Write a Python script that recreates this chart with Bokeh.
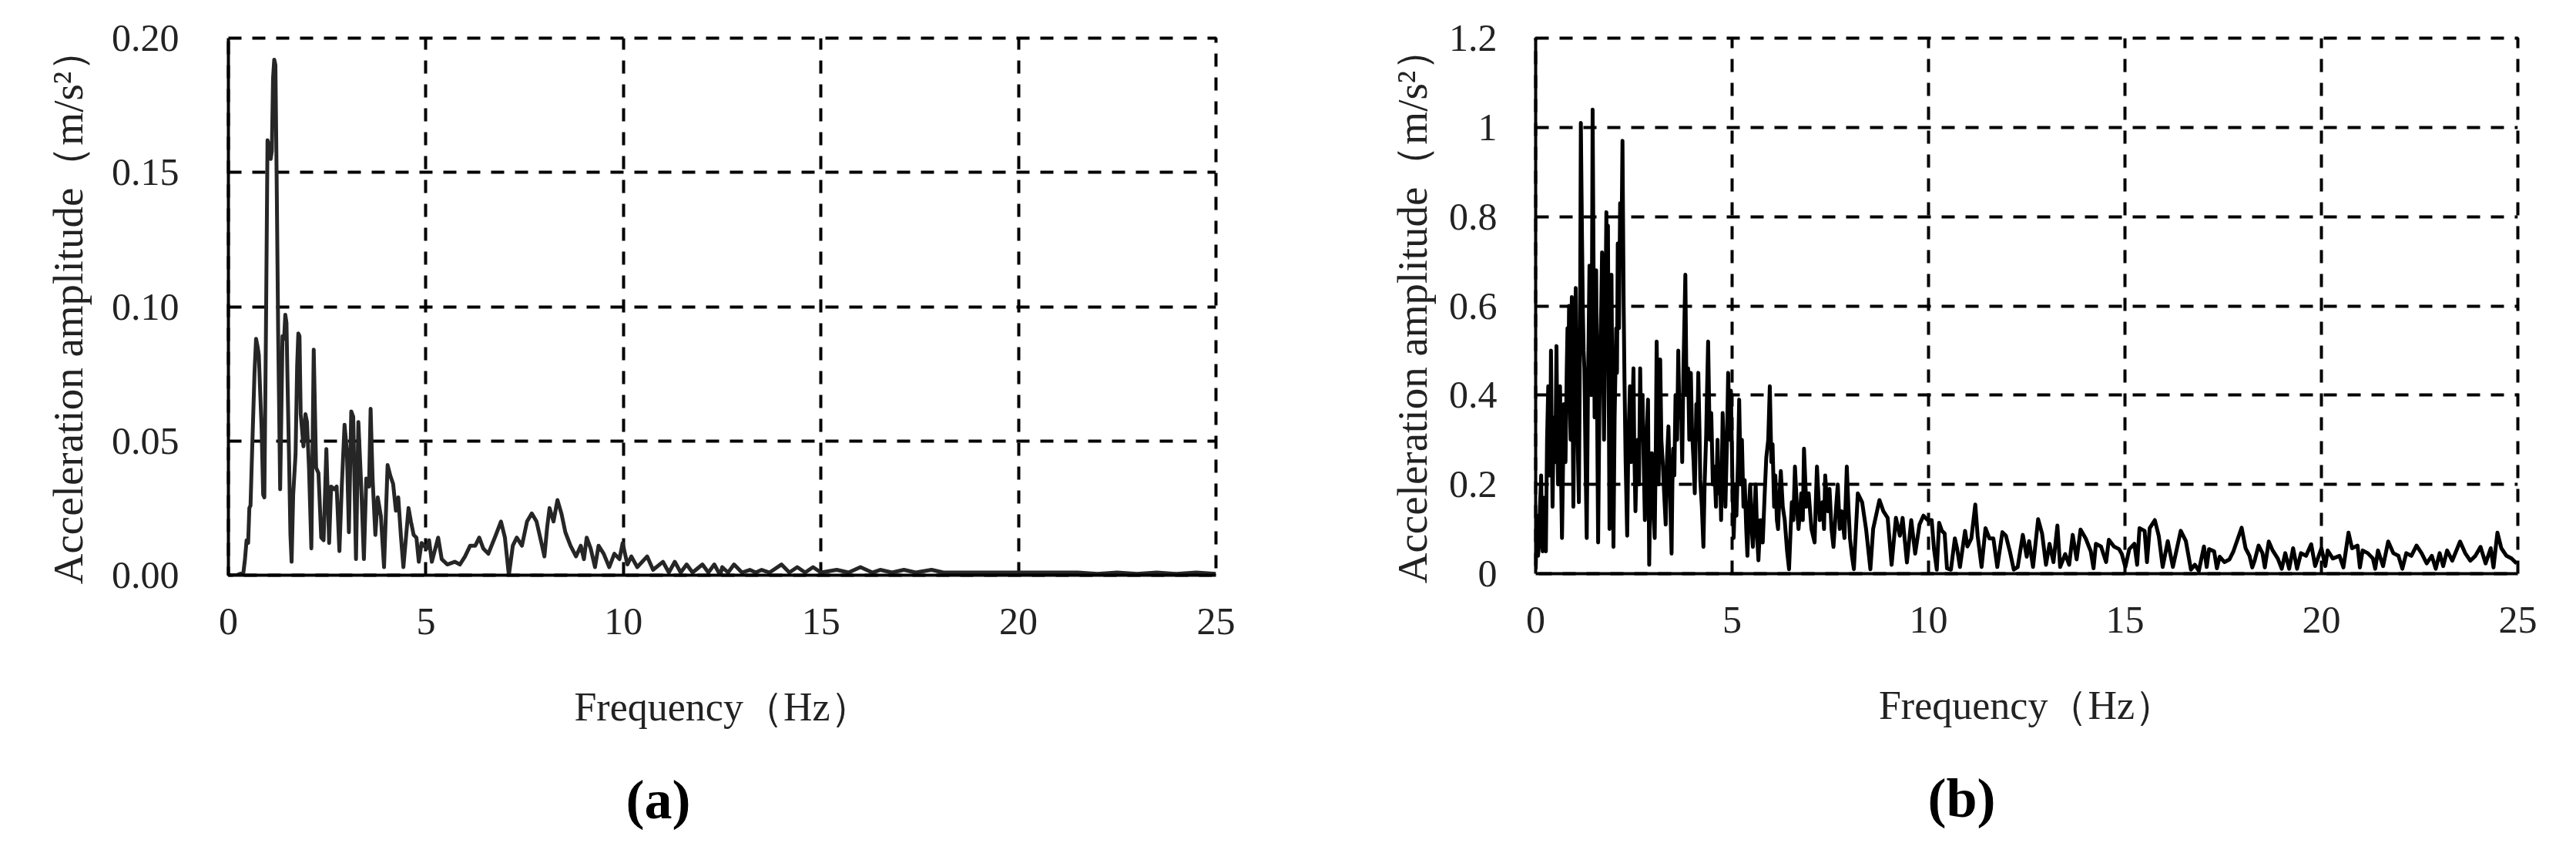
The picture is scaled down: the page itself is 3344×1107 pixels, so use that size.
from bokeh.plotting import figure
from bokeh.layouts import row
from bokeh.models import Range1d, FixedTicker, CustomJSTickFormatter, Title
from bokeh.embed import file_html
from bokeh.resources import INLINE

# ---------------- data ----------------
x_ticks = [0, 5, 10, 15, 20, 25]
x_tick_labels = ["0", "5", "10", "15", "20", "25"]
y_ticks_a = [0, 0.05, 0.10, 0.15, 0.20]
y_tick_labels_a = ["0.00", "0.05", "0.10", "0.15", "0.20"]
y_ticks_b = [0, 0.2, 0.4, 0.6, 0.8, 1.0, 1.2]
y_tick_labels_b = ["0", "0.2", "0.4", "0.6", "0.8", "1", "1.2"]
x_label = "Frequency（Hz）"
y_label = "Acceleration amplitude（m/s²）"
panel_labels = ["(a)", "(b)"]

# (a) spectrum: frequency (Hz) and amplitude (m/s2)
freq_a = [0.00, 0.20, 0.38, 0.42, 0.46, 0.50, 0.53, 0.56, 0.60, 0.66, 0.70, 0.74, 0.77, 0.80, 0.84,
          0.88, 0.91, 0.95, 0.99, 1.03, 1.07, 1.10, 1.13, 1.16, 1.19, 1.22, 1.26, 1.31, 1.34, 1.37,
          1.41, 1.44, 1.47, 1.50, 1.54, 1.57, 1.60, 1.64, 1.70, 1.74, 1.77, 1.80, 1.83, 1.86, 1.90,
          1.95, 1.99, 2.04, 2.10, 2.16, 2.22, 2.28, 2.35, 2.41, 2.48, 2.55, 2.60, 2.68, 2.74, 2.81,
          2.87, 2.94, 3.00, 3.05, 3.11, 3.16, 3.23, 3.29, 3.36, 3.43, 3.49, 3.56, 3.60, 3.65, 3.72,
          3.78, 3.86, 3.94, 4.03, 4.10, 4.17, 4.24, 4.30, 4.37, 4.43, 4.56, 4.62, 4.69, 4.76, 4.82,
          4.89, 4.95, 5.02, 5.08, 5.15, 5.31, 5.40, 5.54, 5.73, 5.86, 5.99, 6.12, 6.25, 6.35, 6.45,
          6.58, 6.77, 6.90, 7.00, 7.10, 7.20, 7.30, 7.43, 7.56, 7.68, 7.80, 7.94, 8.00, 8.07, 8.13,
          8.23, 8.33, 8.43, 8.53, 8.66, 8.80, 8.92, 9.00, 9.07, 9.17, 9.28, 9.37, 9.50, 9.64, 9.77,
          9.90, 9.98, 10.10, 10.20, 10.35, 10.60, 10.75, 11.00, 11.15, 11.30, 11.45, 11.60, 11.75, 12.00, 12.15,
          12.30, 12.45, 12.50, 12.65, 12.80, 13.00, 13.20, 13.35, 13.50, 13.70, 14.00, 14.20, 14.40, 14.60, 14.80,
          15.00, 15.40, 15.70, 16.00, 16.30, 16.50, 16.80, 17.10, 17.40, 17.80, 18.10, 18.50, 19.00, 19.50, 20.00,
          20.50, 21.00, 21.50, 22.00, 22.50, 23.00, 23.50, 24.00, 24.50, 25.00]
amp_a = [0.000, 0.000, 0.001, 0.006, 0.013, 0.012, 0.025, 0.026, 0.046, 0.075, 0.088, 0.085, 0.082, 0.070, 0.055,
         0.030, 0.029, 0.090, 0.162, 0.160, 0.155, 0.158, 0.185, 0.192, 0.190, 0.150, 0.090, 0.032, 0.060, 0.089,
         0.088, 0.097, 0.094, 0.070, 0.040, 0.015, 0.005, 0.030, 0.045, 0.078, 0.090, 0.089, 0.060, 0.055, 0.048,
         0.060, 0.057, 0.040, 0.010, 0.084, 0.040, 0.038, 0.014, 0.013, 0.047, 0.012, 0.033, 0.032, 0.033, 0.009,
         0.033, 0.056, 0.046, 0.016, 0.061, 0.059, 0.006, 0.057, 0.034, 0.006, 0.036, 0.033, 0.062, 0.036, 0.015,
         0.029, 0.022, 0.003, 0.041, 0.037, 0.034, 0.024, 0.029, 0.014, 0.003, 0.025, 0.020, 0.015, 0.014, 0.005,
         0.012, 0.011, 0.010, 0.013, 0.005, 0.014, 0.006, 0.004, 0.005, 0.004, 0.007, 0.011, 0.011, 0.014, 0.010,
         0.008, 0.015, 0.020, 0.014, 0.000, 0.011, 0.014, 0.011, 0.020, 0.023, 0.020, 0.011, 0.007, 0.018, 0.025,
         0.020, 0.028, 0.023, 0.016, 0.011, 0.007, 0.011, 0.006, 0.014, 0.010, 0.003, 0.011, 0.008, 0.003, 0.008,
         0.006, 0.012, 0.004, 0.007, 0.003, 0.007, 0.002, 0.005, 0.001, 0.005, 0.001, 0.004, 0.001, 0.004, 0.001,
         0.004, 0.000, 0.003, 0.001, 0.004, 0.001, 0.002, 0.001, 0.002, 0.001, 0.004, 0.001, 0.003, 0.001, 0.003,
         0.001, 0.002, 0.001, 0.003, 0.001, 0.002, 0.001, 0.002, 0.001, 0.002, 0.001, 0.001, 0.001, 0.001, 0.001,
         0.001, 0.001, 0.001, 0.0005, 0.001, 0.0005, 0.001, 0.0005, 0.001, 0.0005]

# (b) spectrum, 0-8.1 Hz: (frequency, amplitude) readings
spectrum_b_low = [
    (0.00, 0.01), (0.02, 0.08), (0.04, 0.13), (0.06, 0.04), (0.08, 0.06), (0.11, 0.15), (0.14, 0.22),
    (0.16, 0.10), (0.18, 0.05), (0.20, 0.12), (0.22, 0.17), (0.24, 0.08), (0.26, 0.05), (0.29, 0.30),
    (0.32, 0.42), (0.34, 0.28), (0.36, 0.22), (0.38, 0.38), (0.39, 0.50), (0.41, 0.30), (0.43, 0.15),
    (0.45, 0.28), (0.47, 0.35), (0.50, 0.25), (0.53, 0.51), (0.55, 0.32), (0.57, 0.20), (0.60, 0.36),
    (0.62, 0.42), (0.65, 0.20), (0.67, 0.08), (0.70, 0.26), (0.72, 0.38), (0.74, 0.30), (0.76, 0.25),
    (0.79, 0.45), (0.81, 0.55), (0.83, 0.42), (0.85, 0.60), (0.87, 0.38), (0.89, 0.30), (0.91, 0.50),
    (0.92, 0.62), (0.94, 0.40), (0.96, 0.15), (0.99, 0.45), (1.02, 0.64), (1.04, 0.48), (1.06, 0.35),
    (1.08, 0.25), (1.10, 0.16), (1.13, 0.55), (1.15, 1.01), (1.18, 0.75), (1.20, 0.60), (1.22, 0.50),
    (1.24, 0.46), (1.27, 0.25), (1.30, 0.08), (1.33, 0.40), (1.37, 0.69), (1.40, 0.55), (1.42, 0.40),
    (1.44, 0.80), (1.45, 1.04), (1.48, 0.60), (1.50, 0.35), (1.52, 0.50), (1.54, 0.68), (1.57, 0.30),
    (1.59, 0.07), (1.62, 0.35), (1.64, 0.50), (1.67, 0.60), (1.69, 0.72), (1.72, 0.45), (1.74, 0.30),
    (1.77, 0.55), (1.80, 0.81), (1.82, 0.60), (1.84, 0.78), (1.86, 0.40), (1.88, 0.10), (1.91, 0.45),
    (1.93, 0.67), (1.96, 0.30), (1.98, 0.06), (2.01, 0.35), (2.05, 0.55), (2.07, 0.45), (2.09, 0.74),
    (2.12, 0.55), (2.15, 0.83), (2.18, 0.70), (2.21, 0.97), (2.24, 0.60), (2.26, 0.44), (2.29, 0.25),
    (2.33, 0.085), (2.36, 0.30), (2.40, 0.42), (2.43, 0.25), (2.46, 0.35), (2.49, 0.46), (2.51, 0.28),
    (2.54, 0.14), (2.57, 0.25), (2.60, 0.30), (2.63, 0.20), (2.66, 0.46), (2.69, 0.30), (2.72, 0.40),
    (2.75, 0.25), (2.78, 0.12), (2.82, 0.30), (2.86, 0.39), (2.89, 0.02), (2.92, 0.20), (2.96, 0.27),
    (2.99, 0.15), (3.03, 0.08), (3.06, 0.30), (3.08, 0.52), (3.11, 0.35), (3.13, 0.20), (3.15, 0.35),
    (3.17, 0.48), (3.20, 0.30), (3.24, 0.24), (3.27, 0.18), (3.31, 0.11), (3.34, 0.25), (3.38, 0.33),
    (3.42, 0.18), (3.46, 0.045), (3.48, 0.20), (3.50, 0.28), (3.53, 0.22), (3.56, 0.40), (3.60, 0.30),
    (3.63, 0.50), (3.66, 0.35), (3.70, 0.38), (3.73, 0.25), (3.76, 0.45), (3.81, 0.67), (3.84, 0.40),
    (3.88, 0.46), (3.91, 0.30), (3.95, 0.45), (3.98, 0.32), (4.02, 0.25), (4.05, 0.18), (4.09, 0.38),
    (4.11, 0.30), (4.14, 0.45), (4.17, 0.32), (4.19, 0.21), (4.23, 0.15), (4.27, 0.06), (4.30, 0.20),
    (4.34, 0.31), (4.36, 0.40), (4.39, 0.52), (4.43, 0.30), (4.47, 0.36), (4.51, 0.20), (4.55, 0.24),
    (4.59, 0.15), (4.63, 0.30), (4.66, 0.18), (4.69, 0.24), (4.72, 0.12), (4.76, 0.36), (4.80, 0.25),
    (4.83, 0.15), (4.87, 0.30), (4.90, 0.45), (4.94, 0.30), (4.97, 0.41), (5.01, 0.20), (5.04, 0.08),
    (5.08, 0.20), (5.11, 0.13), (5.15, 0.25), (5.18, 0.39), (5.22, 0.20), (5.25, 0.30), (5.29, 0.15),
    (5.32, 0.21), (5.36, 0.10), (5.39, 0.04), (5.43, 0.15), (5.46, 0.20), (5.50, 0.10), (5.53, 0.06),
    (5.57, 0.14), (5.60, 0.20), (5.64, 0.08), (5.67, 0.03), (5.72, 0.12), (5.78, 0.07), (5.83, 0.18),
    (5.87, 0.26), (5.92, 0.30), (5.96, 0.42), (6.00, 0.25), (6.03, 0.29), (6.07, 0.15), (6.10, 0.22),
    (6.14, 0.12), (6.17, 0.10), (6.21, 0.18), (6.24, 0.23), (6.29, 0.15), (6.34, 0.12), (6.40, 0.05),
    (6.45, 0.01), (6.49, 0.10), (6.52, 0.16), (6.56, 0.12), (6.60, 0.24), (6.65, 0.15), (6.69, 0.10),
    (6.73, 0.14), (6.76, 0.18), (6.80, 0.12), (6.83, 0.28), (6.89, 0.15), (6.95, 0.18), (7.02, 0.10),
    (7.10, 0.07), (7.13, 0.16), (7.16, 0.24), (7.23, 0.12), (7.30, 0.16), (7.34, 0.10), (7.37, 0.22),
    (7.43, 0.14), (7.48, 0.19), (7.53, 0.10), (7.58, 0.06), (7.64, 0.14), (7.69, 0.20), (7.74, 0.10),
    (7.79, 0.14), (7.86, 0.08), (7.92, 0.24), (7.96, 0.15), (8.00, 0.08), (8.05, 0.04), (8.10, 0.01),
]

# (b) spectrum, 8.2-25 Hz
freq_b_high = [8.20, 8.31, 8.41, 8.52, 8.59, 8.75, 8.85, 8.96, 9.06,
               9.17, 9.27, 9.34, 9.45, 9.56, 9.66, 9.77, 9.87, 9.98, 10.08, 10.14, 10.21, 10.27, 10.34, 10.41,
               10.47, 10.57, 10.67, 10.73, 10.80, 10.93, 10.99, 11.09, 11.19, 11.25, 11.35, 11.45, 11.55, 11.65, 11.75,
               11.88, 11.97, 12.07, 12.17, 12.27, 12.40, 12.50, 12.56, 12.66, 12.79, 12.89, 12.99, 13.08, 13.18, 13.28,
               13.35, 13.48, 13.58, 13.67, 13.77, 13.87, 14.00, 14.13, 14.20, 14.26, 14.39, 14.52, 14.59, 14.72, 14.85,
               14.92, 15.01, 15.11, 15.24, 15.31, 15.37, 15.50, 15.56, 15.63, 15.76, 15.86, 15.96, 16.09, 16.22, 16.42,
               16.55, 16.68, 16.78, 16.88, 17.01, 17.08, 17.14, 17.27, 17.34, 17.41, 17.53, 17.66, 17.76, 17.97, 18.07,
               18.17, 18.24, 18.30, 18.40, 18.50, 18.56, 18.66, 18.76, 18.89, 18.99, 19.08, 19.18, 19.28, 19.38, 19.48,
               19.61, 19.74, 19.84, 20.00, 20.10, 20.16, 20.29, 20.46, 20.56, 20.69, 20.78, 20.92, 20.98, 21.05, 21.18,
               21.31, 21.37, 21.44, 21.57, 21.70, 21.83, 21.96, 22.06, 22.16, 22.29, 22.42, 22.55, 22.68, 22.81, 22.91,
               23.01, 23.10, 23.20, 23.33, 23.53, 23.66, 23.79, 23.92, 24.05, 24.18, 24.31, 24.38, 24.48, 24.58, 24.71,
               24.84, 24.97]
amp_b_high = [0.18, 0.16, 0.10, 0.01, 0.10, 0.165, 0.14, 0.125, 0.02,
              0.125, 0.085, 0.125, 0.025, 0.12, 0.045, 0.11, 0.13, 0.12, 0.12, 0.055, 0.009, 0.114, 0.096, 0.09,
              0.012, 0.009, 0.079, 0.055, 0.015, 0.096, 0.061, 0.079, 0.155, 0.085, 0.015, 0.102, 0.079, 0.079, 0.015,
              0.093, 0.085, 0.05, 0.009, 0.015, 0.087, 0.038, 0.073, 0.015, 0.122, 0.09, 0.02, 0.067, 0.026, 0.108,
              0.015, 0.044, 0.02, 0.087, 0.032, 0.099, 0.079, 0.05, 0.012, 0.067, 0.061, 0.026, 0.076, 0.061, 0.055,
              0.044, 0.015, 0.055, 0.067, 0.02, 0.102, 0.096, 0.026, 0.102, 0.12, 0.085, 0.015, 0.073, 0.015, 0.096,
              0.073, 0.009, 0.02, 0.006, 0.061, 0.015, 0.055, 0.05, 0.012, 0.038, 0.026, 0.032, 0.05, 0.103, 0.057,
              0.04, 0.014, 0.029, 0.063, 0.046, 0.014, 0.072, 0.052, 0.034, 0.011, 0.046, 0.011, 0.057, 0.011, 0.046,
              0.04, 0.066, 0.017, 0.057, 0.017, 0.052, 0.034, 0.04, 0.014, 0.092, 0.057, 0.063, 0.014, 0.052, 0.046,
              0.034, 0.011, 0.052, 0.017, 0.072, 0.046, 0.04, 0.011, 0.046, 0.04, 0.063, 0.046, 0.023, 0.04, 0.011,
              0.046, 0.017, 0.052, 0.029, 0.072, 0.046, 0.029, 0.04, 0.06, 0.023, 0.057, 0.014, 0.092, 0.057, 0.04,
              0.034, 0.023]

freq_b = [f for f, _ in spectrum_b_low] + freq_b_high
amp_b = [a for _, a in spectrum_b_low] + amp_b_high

FONT = "Liberation Serif"
TEXT_COLOR = "#222222"
DASH = "17 14"


def label_formatter(tick_vals, tick_texts):
    return CustomJSTickFormatter(args=dict(tvals=tick_vals, ttexts=tick_texts), code="""
        let best = 0, bd = Infinity;
        for (let i = 0; i < tvals.length; i++) {
            const d = Math.abs(tvals[i] - tick);
            if (d < bd) { bd = d; best = i; }
        }
        return ttexts[best];
    """)


def make_panel(freq, amp, y_ticks, y_labels, y_max, geom, y_standoff, ylab_standoff,
               line_color, line_width, panel_label, title_offset):
    mb_left, mb_top, mb_right, mb_bottom, fw, fh = geom
    p = figure(frame_width=fw, frame_height=fh,
               x_range=Range1d(0, 25), y_range=Range1d(0, y_max),
               output_backend="svg", toolbar_location=None,
               min_border_left=mb_left, min_border_top=mb_top,
               min_border_right=mb_right, min_border_bottom=mb_bottom)
    p.background_fill_color = "white"
    p.border_fill_color = "white"
    # dashed frame (top and right edges look like the grid; left/bottom are covered by axes)
    p.outline_line_color = "black"
    p.outline_line_width = 4
    p.outline_line_dash = DASH

    p.line(freq, amp, line_color=line_color, line_width=line_width, line_join="round")

    for ax in (p.xaxis[0], p.yaxis[0]):
        ax.axis_line_color = "black"
        ax.axis_line_width = 4
        ax.major_tick_out = 0
        ax.major_tick_in = 0
        ax.minor_tick_out = 0
        ax.minor_tick_in = 0
        ax.major_label_text_font = FONT
        ax.major_label_text_font_size = "50px"
        ax.major_label_text_color = TEXT_COLOR
        ax.axis_label_text_font = FONT
        ax.axis_label_text_font_style = "normal"
        ax.axis_label_text_color = TEXT_COLOR
    p.xaxis.axis_label_text_font_size = "52px"
    p.yaxis.axis_label_text_font_size = "55px"

    p.xaxis.ticker = FixedTicker(ticks=x_ticks)
    p.xaxis.formatter = label_formatter(x_ticks, x_tick_labels)
    p.xaxis.major_label_standoff = 43
    p.xaxis.axis_label = x_label
    p.xaxis.axis_label_standoff = 63

    p.yaxis.ticker = FixedTicker(ticks=y_ticks)
    p.yaxis.formatter = label_formatter(y_ticks, y_labels)
    p.yaxis.major_label_standoff = y_standoff
    p.yaxis.axis_label = y_label
    p.yaxis.axis_label_standoff = ylab_standoff

    p.xgrid.ticker = FixedTicker(ticks=x_ticks[1:])
    p.ygrid.ticker = FixedTicker(ticks=y_ticks[1:])
    for g in (p.xgrid[0], p.ygrid[0]):
        g.grid_line_color = "black"
        g.grid_line_width = 4
        g.grid_line_dash = DASH

    t = Title(text=panel_label, align="left", offset=title_offset,
              text_font=FONT, text_font_size="72px", text_font_style="bold",
              text_color="black", standoff=95)
    p.add_layout(t, "below")
    return p


pa = make_panel(freq_a, amp_a, y_ticks_a, y_tick_labels_a, 0.2,
                (296, 43, 100, 340, 1282, 697), 64, 23, "#262626", 5, panel_labels[0], 516)
pb = make_panel(freq_b, amp_b, y_ticks_b, y_tick_labels_b, 1.2,
                (315, 49, 40, 336, 1275, 695), 50, 14, "black", 5, panel_labels[1], 509)

layout = row(pa, pb)
open("out.html", "w").write(file_html(layout, INLINE))
